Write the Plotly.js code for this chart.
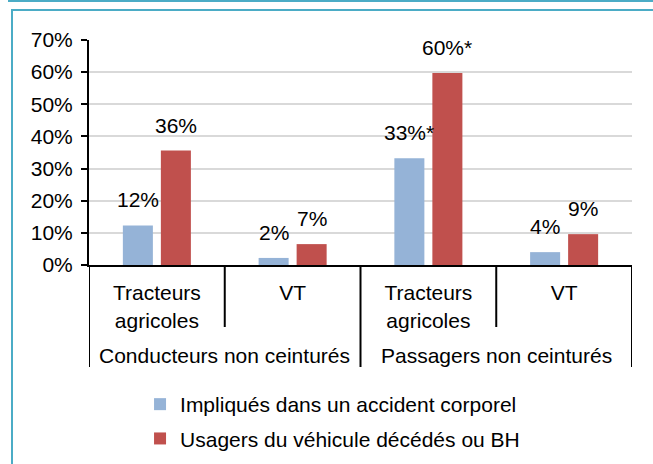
<!DOCTYPE html>
<html><head><meta charset="utf-8">
<script src="https://cdn.plot.ly/plotly-3.0.1.min.js"></script>
<style>
html,body{margin:0;padding:0;background:#fff;overflow:hidden}
#wrap{position:relative;width:653px;height:464px}
#chart{position:absolute;left:0;top:0;width:653px;height:464px}
.fr{position:absolute;pointer-events:none;border:0 solid #4BACC6}
</style></head>
<body><div id="wrap"><div id="chart"></div>
<div class="fr" style="left:8px;top:-10px;width:700px;height:10px;border-bottom-width:2px;"></div>
<div class="fr" style="left:11px;top:9px;width:700px;height:500px;border-top-width:2px;border-left-width:2px;"></div>
</div>
<script>
const groups = ["Conducteurs non ceinturés","Passagers non ceinturés"];
const categories = ["Tracteurs<br>agricoles","VT","Tracteurs<br>agricoles","VT"];
const positions = [0,1,2,3];
const implique = [0.123, 0.022, 0.332, 0.040];
const decedes = [0.356, 0.065, 0.597, 0.096];
const impliqueLabels = ["12%","2%","33%*","4%"];
const decedesLabels = ["36%","7%","60%*","9%"];
const seriesNames = ["Impliqués dans un accident corporel","Usagers du véhicule décédés ou BH"];

const W = 653, H = 464, MT = 40, MB = 0;
const PH = H - MT - MB;
const py = px => (H - MB - px) / PH;   // page pixel row -> paper fraction

const FS = 21;
const font = {family:"Liberation Sans, Arial, sans-serif", size:FS, color:"#000"};
const traces = [
 {type:"bar", x:positions, y:implique, name:seriesNames[0], legendgroup:"a",
  marker:{color:"#95B3D7"}, hoverinfo:"none"},
 {type:"bar", x:positions, y:decedes, name:seriesNames[1], legendgroup:"b",
  marker:{color:"#C0504D"}, hoverinfo:"none"}
];
const shapes = [];
const L = {color:"#000", width:2};
[-0.5, 1.5, 3.5].forEach(v => shapes.push({type:"line", xref:"x", yref:"paper", x0:v, x1:v, y0:py(265), y1:py(367), line:L}));
[0.5, 2.5].forEach(v => shapes.push({type:"line", xref:"x", yref:"paper", x0:v, x1:v, y0:py(265), y1:py(327), line:L}));
const annotations = groups.map((g,i) => ({text:g, xref:"x", yref:"paper", x:0.5+2*i, y:py(355),
  xanchor:"center", yanchor:"middle", showarrow:false, font:font}));
const addLabels = (vals, labels, dx) => vals.forEach((v,i) => annotations.push({
  text:labels[i], xref:"x", yref:"y", x:positions[i], y:v, xshift:dx, yshift:12,
  xanchor:"center", yanchor:"bottom", showarrow:false, font:font}));
addLabels(implique, impliqueLabels, -19);
addLabels(decedes, decedesLabels, 19);

const layout = {
 width:W, height:H,
 margin:{l:89, r:21, t:MT, b:MB},
 paper_bgcolor:"#fff", plot_bgcolor:"#fff",
 font:font,
 barmode:"group", bargap:0.44, bargroupgap:0.21,
 showlegend:true,
 legend:{x:0.094, xanchor:"left", y:py(384), yanchor:"top", orientation:"v",
   traceorder:"grouped", tracegroupgap:4, font:font, itemwidth:30},
 shapes:shapes, annotations:annotations,
 xaxis:{range:[-0.5,3.5], tickvals:positions, ticktext:categories, showline:true, linecolor:"#000", linewidth:2,
   ticks:"", ticklabelstandoff:8, tickfont:font, showgrid:false, zeroline:false, fixedrange:true},
 yaxis:{domain:[py(265),1], range:[0,0.7], dtick:0.1, tickformat:".0%", showline:true, linecolor:"#000", linewidth:2,
   ticks:"outside", ticklen:6, tickcolor:"#000", tickwidth:2, ticklabelstandoff:4,
   gridcolor:"#D9D9D9", gridwidth:2, zeroline:false, tickfont:font, fixedrange:true}
};
Plotly.newPlot("chart", traces, layout, {displayModeBar:false, staticPlot:true});
</script></body></html>
